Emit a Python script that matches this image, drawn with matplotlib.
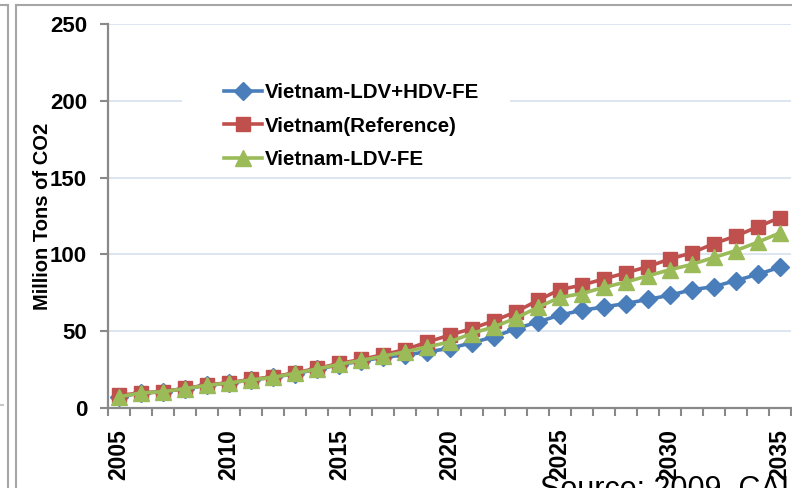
import matplotlib
matplotlib.use("Agg")
import matplotlib.pyplot as plt
from matplotlib.lines import Line2D
from matplotlib.patches import Rectangle

years = list(range(2005, 2036))
ldv_hdv_fe = [7.3, 9.8, 10.6, 12.6, 14.8, 16.3, 18.3, 20.0, 22.4, 25.2, 28.2,
              30.6, 33.0, 34.6, 36.6, 38.8, 42.4, 46.3, 51.5, 56.0, 60.4,
              63.6, 65.8, 68.0, 70.7, 73.4, 77.0, 79.0, 83.0, 87.0, 91.7]
reference = [8.4, 9.6, 10.7, 12.8, 15.0, 16.5, 18.6, 20.3, 23.0, 25.8, 29.0,
             31.6, 34.8, 38.0, 43.0, 47.4, 51.7, 56.7, 62.5, 70.0, 77.0,
             80.0, 84.0, 88.0, 92.0, 97.0, 101.0, 107.0, 112.0, 118.0, 124.0]
ldv_fe = [7.3, 9.8, 10.6, 12.6, 14.8, 16.3, 18.3, 20.0, 22.6, 25.4, 28.5,
          31.0, 33.8, 36.6, 39.8, 43.0, 48.5, 52.8, 58.4, 65.5, 72.0,
          74.5, 78.5, 82.0, 86.0, 90.0, 93.5, 98.0, 102.5, 108.0, 114.0]
series_names = ["Vietnam-LDV+HDV-FE", "Vietnam(Reference)", "Vietnam-LDV-FE"]
y_ticks = [0, 50, 100, 150, 200, 250]

plt.rcParams['font.family'] = ['Liberation Sans', 'DejaVu Sans']

W, H = 792, 488
fig = plt.figure(figsize=(W / 100, H / 100), dpi=100)
ax = fig.add_axes([108 / W, (H - 408) / H, (791 - 108) / W, (408 - 24) / H])

idx = list(range(len(years)))
ax.plot(idx, ldv_hdv_fe, color="#4a7ebb", lw=2.6, marker="D", ms=9,
        label=series_names[0], zorder=3)
ax.plot(idx, reference, color="#c0504d", lw=2.6, marker="s", ms=10.5,
        label=series_names[1], zorder=3)
ax.plot(idx, ldv_fe, color="#9bbb59", lw=2.6, marker="^", ms=11,
        label=series_names[2], zorder=3)

ax.set_xlim(-0.5, len(years) - 0.5)
ax.set_ylim(0, 250)
ax.set_yticks(y_ticks)
ax.set_yticklabels([str(v) for v in y_ticks], fontsize=16, fontweight="bold")
major = [i for i, y in enumerate(years) if y % 5 == 0]
ax.set_xticks(major)
ax.set_xticklabels([str(years[i]) for i in major], rotation=90,
                   fontsize=16.5, fontweight="bold")
ax.set_xticks([i - 0.5 for i in range(len(years) + 1)], minor=True)
ax.tick_params(axis="x", which="major", length=0, pad=15)
ax.tick_params(axis="x", which="minor", length=6, width=1.5, color="#898989",
               direction="out")
ax.tick_params(axis="y", length=6, width=1.5, color="#898989", pad=9)

ax.set_axisbelow(True)
ax.grid(axis="y", color="#d9e3ef", lw=1.3)
for s in ["top", "right"]:
    ax.spines[s].set_visible(False)
for s in ["left", "bottom"]:
    ax.spines[s].set_color("#898989")
    ax.spines[s].set_linewidth(1.6)

ax.set_ylabel("Million Tons of CO2", fontsize=14.5, fontweight="bold", va="center")
ax.yaxis.set_label_coords((43 - 108) / 683, 0.5)

# white box behind legend, hides grid lines
ax.add_patch(Rectangle((182 / W, (H - 172) / H), (510 - 182) / W, 95 / H,
                       transform=fig.transFigure, facecolor="white",
                       edgecolor="none", zorder=1.5))
leg = ax.legend(loc="upper left", bbox_to_anchor=(214 / W, (H - 73) / H),
                bbox_transform=fig.transFigure, frameon=False, borderpad=0,
                handlelength=1.85, handletextpad=0.1, labelspacing=0.7,
                prop={"size": 14.8, "weight": "bold"})

# frame remnants of the screenshot
gray = "#a6a6a6"
fig.add_artist(Line2D([0, 8 / W], [1 - 5 / H, 1 - 5 / H], color=gray, lw=1.5))
fig.add_artist(Line2D([8 / W, 8 / W], [0, 1 - 5 / H], color=gray, lw=1.5))
fig.add_artist(Line2D([15.5 / W, 1], [1 - 5 / H, 1 - 5 / H], color=gray, lw=1.5))
fig.add_artist(Line2D([15.5 / W, 15.5 / W], [0, 1 - 5 / H], color=gray, lw=1.5))
fig.add_artist(Line2D([0, 3 / W], [1 - 405 / H, 1 - 405 / H], color="#c8c8c8", lw=1.5))

fig.text(540 / W, -10 / H, "Source: 2009, CAI-Asia", fontsize=22,
         va="baseline", ha="left")

fig.savefig("out.png", dpi=100)
